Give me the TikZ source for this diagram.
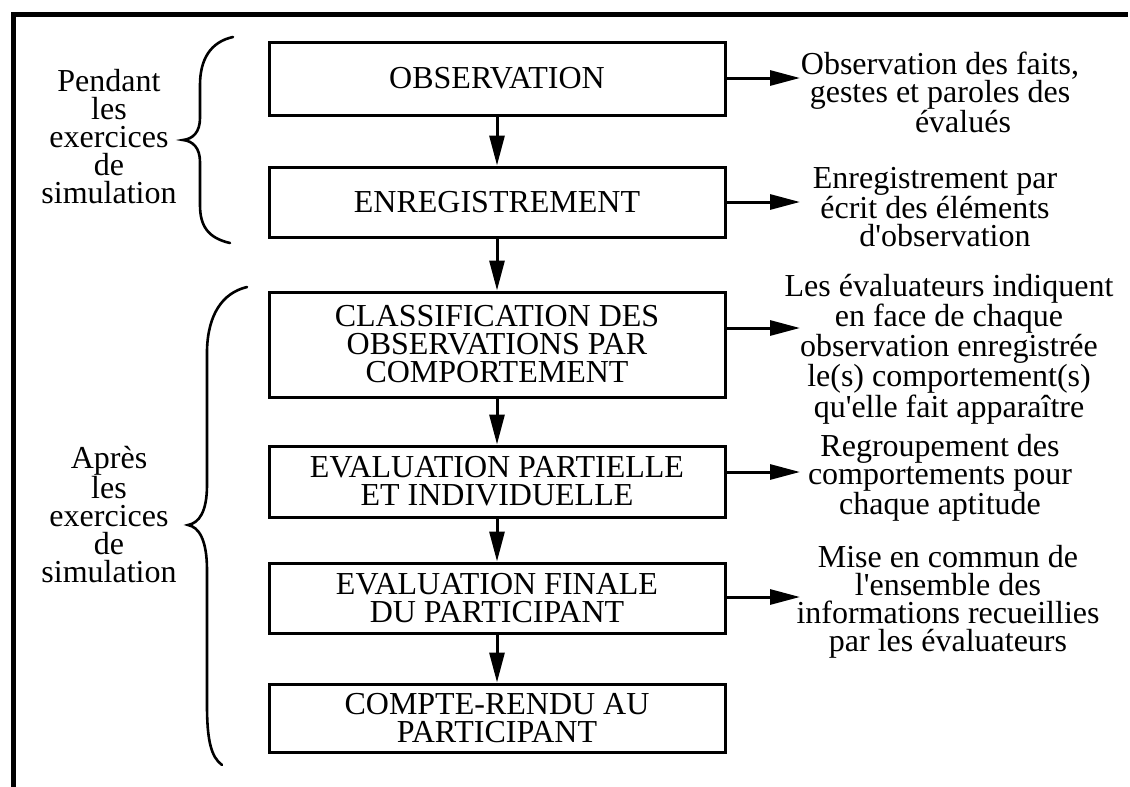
\documentclass[tikz,border=0pt]{standalone}
\usepackage{fontspec}
\setmainfont{Liberation Serif}
\usetikzlibrary{arrows.meta}
\begin{document}
\begin{tikzpicture}[x=1pt,y=-1pt,
  txt/.style={font=\fontsize{32}{28}\selectfont, align=center, inner sep=0pt},
  stage/.style={txt, draw, line width=3pt, minimum width=456pt},
  flow/.style={line width=3pt, -{Triangle[length=30pt,width=15pt]}},
  brace/.style={line width=2.6pt, line cap=round},
  frame/.style={line width=5pt}]
\useasboundingbox (0,0) rectangle (1130,787);

% open frame: top and left sides only
\draw[frame] (13,787) -- (13,14) -- (1128,14);

% process stages
\node[stage, minimum height=73pt]  (b1) at (497,78.5)  {OBSERVATION};
\node[stage, minimum height=70pt]  (b2) at (497,202)   {ENREGISTREMENT};
\node[stage, minimum height=105pt] (b3) at (497,344.5) {CLASSIFICATION DES\\OBSERVATIONS PAR\\COMPORTEMENT};
\node[stage, minimum height=71pt]  (b4) at (497,481.5) {EVALUATION PARTIELLE\\ET INDIVIDUELLE};
\node[stage, minimum height=70pt]  (b5) at (497,598)   {EVALUATION FINALE\\DU PARTICIPANT};
\node[stage, minimum height=68pt]  (b6) at (497,718)   {COMPTE-RENDU AU\\PARTICIPANT};

% vertical flow
\draw[flow] (b1) -- (b2);
\draw[flow] (b2) -- (b3);
\draw[flow] (b3) -- (b4);
\draw[flow] (b4) -- (b5);
\draw[flow] (b5) -- (b6);

% descriptions on the right
\node[txt] (t1) at (940,92)  {Observation des faits,\\gestes et paroles des\\\hspace*{46pt}évalués};
\node[txt] (t2) at (935,207) {Enregistrement par\\écrit des éléments\\\hspace*{20pt}d\textquotesingle observation};
\node[txt] (t3) at (949,349) {Les évaluateurs indiquent\\en face de chaque\\observation enregistrée\\le(s) comportement(s)\\qu\textquotesingle elle fait apparaître};
\node[txt] (t4) at (940,478) {Regroupement des\\comportements pour\\chaque aptitude};
\node[txt] (t5) at (948,602) {Mise en commun de\\l\textquotesingle ensemble des\\informations recueillies\\par les évaluateurs};

\coordinate (a1) at (800,78);
\coordinate (a2) at (800,202);
\coordinate (a3) at (800,328);
\coordinate (a4) at (800,472);
\coordinate (a5) at (800,597);

\draw[flow] (b1.east |- a1) -- (a1);
\draw[flow] (b2.east |- a2) -- (a2);
\draw[flow] (b3.east |- a3) -- (a3);
\draw[flow] (b4.east |- a4) -- (a4);
\draw[flow] (b5.east |- a5) -- (a5);

% phases on the left
\node[txt] (p1) at (109,137) {Pendant\\les\\exercices\\de\\simulation};
\node[txt] (p2) at (109,515) {Après\\les\\exercices\\de\\simulation};

% braces grouping the stages
\draw[brace] (233,37) .. controls (210,42) and (200,60) .. (200,85)
  -- (200,118) .. controls (200,132) and (193,139) .. (183,140)
  .. controls (193,141) and (200,148) .. (200,162)
  -- (200,205) .. controls (200,226) and (208,238) .. (230,243);
\draw[brace] (247,287) .. controls (222,293) and (208,315) .. (207,350)
  -- (207,485) .. controls (207,512) and (199,523) .. (188,525)
  .. controls (199,527) and (207,540) .. (207,570)
  -- (207,705) .. controls (207,740) and (211,757) .. (222,765);
\end{tikzpicture}
\end{document}
